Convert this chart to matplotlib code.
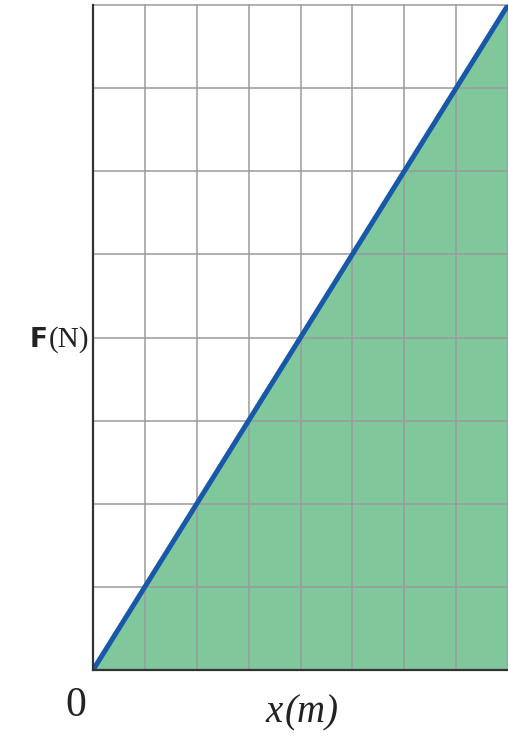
import numpy as np
import matplotlib
matplotlib.use("Agg")
import matplotlib.pyplot as plt

# data: straight line F = k x over an 8 x 8 grid
x_vals = [0, 8]
f_vals = [0, 8]
grid_x = np.arange(0, 9)
grid_f = np.arange(0, 9)

W, H = 508, 746
fig = plt.figure(figsize=(W / 100, H / 100), dpi=100)
ax = fig.add_axes([93 / W, 76 / H, 1 - 93 / W, 665 / H])
ax.set_xlim(0, 8)
ax.set_ylim(0, 8)

# green area under the line
ax.fill_between(x_vals, 0, f_vals, color="#80c89c", zorder=1, linewidth=0)

# grid
for gx in grid_x[1:]:
    ax.axvline(gx, color="#9a9a9a", lw=1.1, zorder=2, clip_on=False)
for gy in grid_f[1:]:
    ax.axhline(gy, color="#9a9a9a", lw=1.1, zorder=2, clip_on=False)

# the line
ax.plot(x_vals, f_vals, color="#1858a8", lw=3.6, zorder=3, solid_capstyle="butt")

for s in ["top", "right"]:
    ax.spines[s].set_visible(False)
for s in ["left", "bottom"]:
    ax.spines[s].set_color("#333333")
    ax.spines[s].set_linewidth(1.6)
    ax.spines[s].set_zorder(4)
ax.set_xticks([])
ax.set_yticks([])

# labels
fig.text(76 / W, 1 - 706 / H, "0", family="Liberation Serif", fontsize=30,
         ha="center", va="center", color="#222222")
fig.text(283 / W, 1 - 713 / H, "x", family="Liberation Serif", style="italic",
         fontsize=28, ha="right", va="center", color="#222222")
fig.text(285 / W, 1 - 713 / H, "(m)", family="Liberation Serif", style="italic",
         fontsize=28, ha="left", va="center", color="#222222")
fig.text(48 / W, 1 - 340 / H, "F", family="DejaVu Sans", weight="bold",
         fontsize=19, ha="right", va="center", color="#222222")
fig.text(49 / W, 1 - 340 / H, "(N)", family="Liberation Serif",
         fontsize=21, ha="left", va="center", color="#222222")

fig.savefig("out.png", dpi=100)
